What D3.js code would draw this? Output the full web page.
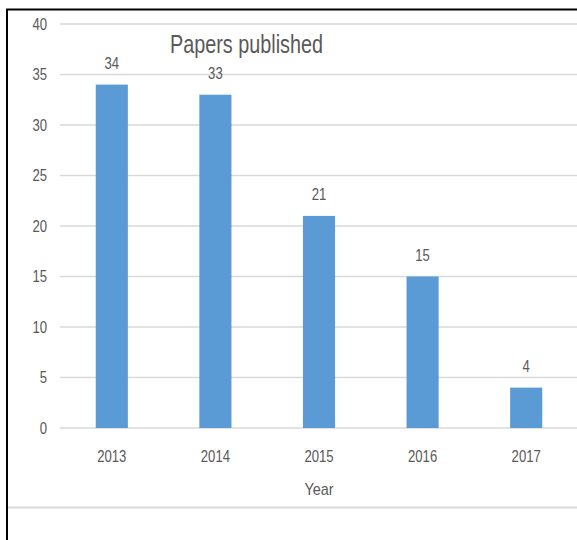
<!DOCTYPE html>
<html><head><meta charset="utf-8">
<script src="https://cdn.jsdelivr.net/npm/d3@7"></script>
<style>
html,body{margin:0;padding:0;background:#fff;}
svg{display:block;}
text{font-family:"Liberation Sans",Arial,sans-serif;font-weight:400;fill:#595959;}
</style></head>
<body>
<svg id="chart" width="577" height="540"></svg>
<script>
const categories = ["2013","2014","2015","2016","2017"];
const values = [34,33,21,15,4];
const yTicks = [0,5,10,15,20,25,30,35,40];
const title = "Papers published";
const xTitle = "Year";

const svg = d3.select("#chart");
const x = d3.scaleBand().domain(categories).range([60,578]).paddingInner(0.69).paddingOuter(0.345);
const y = d3.scaleLinear().domain([0,40]).range([428,24]);
const fit = sel => sel.attr("textLength", function(){ return this.textContent.length*7.3; }).attr("lengthAdjust","spacingAndGlyphs");

// frame
svg.append("line").attr("x1",6).attr("x2",577).attr("y1",9.5).attr("y2",9.5).attr("stroke","#000").attr("stroke-width",2);
svg.append("line").attr("x1",7).attr("x2",7).attr("y1",9).attr("y2",540).attr("stroke","#000").attr("stroke-width",2);
svg.append("line").attr("x1",8).attr("x2",577).attr("y1",507.5).attr("y2",507.5).attr("stroke","#d9d9d9").attr("stroke-width",2);

// gridlines
svg.append("g").selectAll("line").data(yTicks).join("line")
  .attr("x1",60).attr("x2",577).attr("y1",d=>y(d)).attr("y2",d=>y(d))
  .attr("stroke","#d9d9d9").attr("stroke-width",1.5);

// y axis labels
const yAxis = d3.axisLeft(y).tickValues(yTicks).tickSize(0).tickPadding(13);
const gy = svg.append("g").attr("transform","translate(60,0)").call(yAxis);
gy.select(".domain").remove();
gy.selectAll("text").attr("font-size",17).style("font-family",null).attr("fill","#595959").call(fit);

// bars
svg.append("g").selectAll("rect").data(values).join("rect")
  .attr("x",(d,i)=>x(categories[i])).attr("width",x.bandwidth())
  .attr("y",d=>y(d)).attr("height",d=>y(0)-y(d)).attr("fill","#5b9bd5");

// data labels
svg.append("g").selectAll("text").data(values).join("text")
  .attr("x",(d,i)=>x(categories[i])+x.bandwidth()/2).attr("y",d=>y(d)-16)
  .attr("text-anchor","middle").attr("font-size",17).text(d=>d).call(fit);

// x axis labels
const xAxis = d3.axisBottom(x).tickSize(0).tickPadding(0);
const gx = svg.append("g").attr("transform","translate(0,428)").call(xAxis);
gx.select(".domain").remove();
gx.selectAll("text").attr("font-size",17).style("font-family",null).attr("fill","#595959").attr("dy",null).attr("y",34).call(fit);

// axis title
svg.append("text").attr("x",319).attr("y",495).attr("text-anchor","middle").attr("font-size",17).text(xTitle).call(fit);

// chart title
svg.append("text").attr("x",170).attr("y",53).attr("font-size",25).attr("textLength",153).attr("lengthAdjust","spacingAndGlyphs").text(title);
</script>
</body></html>
